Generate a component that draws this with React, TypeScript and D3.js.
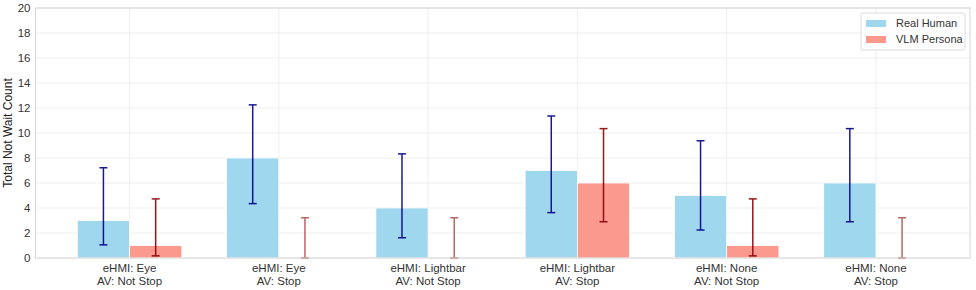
import * as React from "react";
import { scaleLinear, range } from "d3";

// categories shown on the x axis (two lines each)
const eHMI = ["Eye", "Eye", "Lightbar", "Lightbar", "None", "None"];
const avState = ["Not Stop", "Stop", "Not Stop", "Stop", "Not Stop", "Stop"];

// series values + error bar bounds
const humanCounts = [3, 8, 4, 7, 5, 6];
const humanLow = [1.05, 4.35, 1.62, 3.63, 2.24, 2.9];
const humanHigh = [7.22, 12.25, 8.33, 11.36, 9.38, 10.35];

const vlmCounts = [1, 0, 0, 6, 1, 0];
const vlmLow = [0.17, 0, 0, 2.9, 0.17, 0];
const vlmHigh = [4.73, 3.22, 3.22, 10.35, 4.73, 3.22];

const yTicks = [0, 2, 4, 6, 8, 10, 12, 14, 16, 18, 20];

const W = 976;
const H = 290;
const margin = { top: 8, right: 6, bottom: 32, left: 35.5 };
const FONT = "'Liberation Sans', Arial, sans-serif";

const HUMAN_FILL = "#9fd7ee";
const VLM_FILL = "#fb998e";
const HUMAN_ERR = "#00008b";
const VLM_ERR = "#8b0000";

function ErrorBar({ x, y0, y1, color, opacity }) {
  const cap = 4;
  return (
    <g stroke={color} strokeWidth={1.5} opacity={opacity}>
      <line x1={x} x2={x} y1={y0} y2={y1} />
      <line x1={x - cap} x2={x + cap} y1={y0} y2={y0} />
      <line x1={x - cap} x2={x + cap} y1={y1} y2={y1} />
    </g>
  );
}

export default function App() {
  const x0 = margin.left;
  const x1 = W - margin.right;
  const yTop = margin.top;
  const yBot = H - margin.bottom;

  const x = scaleLinear().domain([-0.63, eHMI.length - 1 + 0.63]).range([x0, x1]);
  const y = scaleLinear().domain([0, 20]).range([yBot, yTop]);
  const barW = 0.35;
  const bw = x(barW) - x(0);

  const idx = range(eHMI.length);

  return (
    <svg
      width={W}
      height={H}
      style={{ position: "absolute", left: 0, top: 0, fontFamily: FONT }}
    >
      <rect x={0} y={0} width={W} height={H} fill="#fff" />
      {/* grid */}
      {yTicks.map((t) => (
        <line key={`gy${t}`} x1={x0} x2={x1} y1={y(t)} y2={y(t)} stroke="#ebebeb" strokeWidth={0.8} />
      ))}
      {idx.map((i) => (
        <line key={`gx${i}`} x1={x(i)} x2={x(i)} y1={yTop} y2={yBot} stroke="#ebebeb" strokeWidth={0.8} />
      ))}

      {/* bars */}
      {idx.map((i) => (
        <g key={`b${i}`}>
          <rect
            x={x(i - barW)}
            y={y(humanCounts[i])}
            width={bw}
            height={yBot - y(humanCounts[i])}
            fill={HUMAN_FILL}
            stroke="#fff"
            strokeWidth={0.8}
          />
          {vlmCounts[i] > 0 && (
            <rect
              x={x(i)}
              y={y(vlmCounts[i])}
              width={bw}
              height={yBot - y(vlmCounts[i])}
              fill={VLM_FILL}
              stroke="#fff"
              strokeWidth={0.8}
            />
          )}
        </g>
      ))}

      {/* error bars */}
      {idx.map((i) => (
        <g key={`e${i}`}>
          <ErrorBar
            x={x(i - barW / 2)}
            y0={y(humanLow[i])}
            y1={y(humanHigh[i])}
            color={HUMAN_ERR}
            opacity={0.9}
          />
          <ErrorBar
            x={x(i + barW / 2)}
            y0={y(vlmLow[i])}
            y1={y(vlmHigh[i])}
            color={VLM_ERR}
            opacity={vlmCounts[i] > 0 ? 0.9 : 0.6}
          />
        </g>
      ))}

      {/* frame */}
      <rect x={x0} y={yTop} width={x1 - x0} height={yBot - yTop} fill="none" stroke="#d6d6d6" strokeWidth={1} />

      {/* y axis */}
      {yTicks.map((t) => (
        <text key={`ty${t}`} x={x0 - 5} y={y(t)} dy="0.35em" textAnchor="end" fontSize={11.5} fill="#333">
          {t}
        </text>
      ))}
      <text
        transform={`translate(12, ${(yTop + yBot) / 2}) rotate(-90)`}
        textAnchor="middle"
        fontSize={12}
        fill="#222"
      >
        Total Not Wait Count
      </text>

      {/* x axis */}
      {idx.map((i) => (
        <text key={`tx${i}`} x={x(i)} y={yBot + 14} textAnchor="middle" fontSize={11.5} fill="#333">
          <tspan x={x(i)}>eHMI: {eHMI[i]}</tspan>
          <tspan x={x(i)} dy={13}>AV: {avState[i]}</tspan>
        </text>
      ))}

      {/* legend */}
      <g transform={`translate(${x1 - 109}, 13)`}>
        <rect x={0} y={0} width={104} height={37} rx={2} fill="#fff" fillOpacity={0.85} stroke="#dcdcdc" />
        <rect x={5} y={7} width={20} height={7} fill={HUMAN_FILL} />
        <text x={35} y={10.5} dy="0.35em" fontSize={11} fill="#333">Real Human</text>
        <rect x={5} y={23} width={20} height={7} fill={VLM_FILL} />
        <text x={35} y={26.5} dy="0.35em" fontSize={11} fill="#333">VLM Persona</text>
      </g>
    </svg>
  );
}
